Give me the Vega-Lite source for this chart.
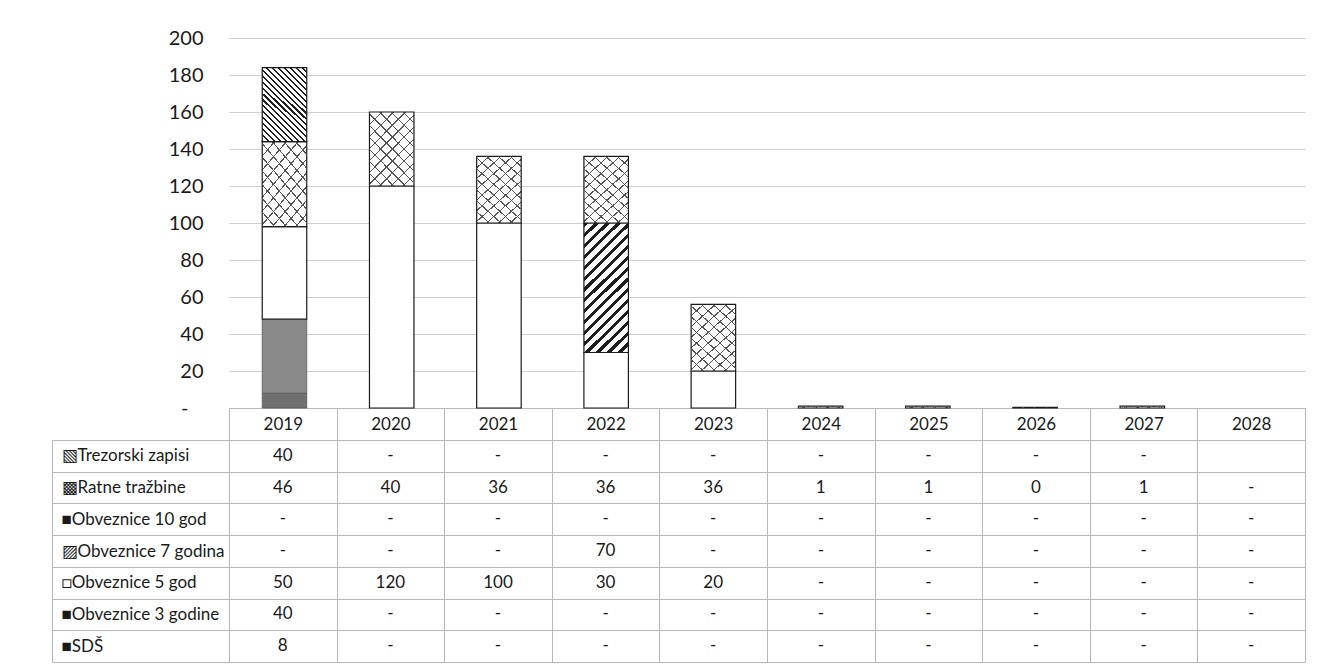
{
  "$schema": "https://vega.github.io/schema/vega-lite/v6.json",
  "padding": {"left": 51, "top": 28, "right": 5, "bottom": 5},
  "background": "white",
  "spacing": 32,
  "bounds": "flush",
  "data": {"values": [
    {"year": 2019, "series": "SDŠ", "value": 8},
    {"year": 2019, "series": "Obveznice 3 godine", "value": 40},
    {"year": 2019, "series": "Obveznice 5 god", "value": 50},
    {"year": 2019, "series": "Obveznice 7 godina", "value": 0},
    {"year": 2019, "series": "Obveznice 10 god", "value": 0},
    {"year": 2019, "series": "Ratne tražbine", "value": 46},
    {"year": 2019, "series": "Trezorski zapisi", "value": 40},
    {"year": 2020, "series": "SDŠ", "value": 0},
    {"year": 2020, "series": "Obveznice 3 godine", "value": 0},
    {"year": 2020, "series": "Obveznice 5 god", "value": 120},
    {"year": 2020, "series": "Obveznice 7 godina", "value": 0},
    {"year": 2020, "series": "Obveznice 10 god", "value": 0},
    {"year": 2020, "series": "Ratne tražbine", "value": 40},
    {"year": 2020, "series": "Trezorski zapisi", "value": 0},
    {"year": 2021, "series": "SDŠ", "value": 0},
    {"year": 2021, "series": "Obveznice 3 godine", "value": 0},
    {"year": 2021, "series": "Obveznice 5 god", "value": 100},
    {"year": 2021, "series": "Obveznice 7 godina", "value": 0},
    {"year": 2021, "series": "Obveznice 10 god", "value": 0},
    {"year": 2021, "series": "Ratne tražbine", "value": 36},
    {"year": 2021, "series": "Trezorski zapisi", "value": 0},
    {"year": 2022, "series": "SDŠ", "value": 0},
    {"year": 2022, "series": "Obveznice 3 godine", "value": 0},
    {"year": 2022, "series": "Obveznice 5 god", "value": 30},
    {"year": 2022, "series": "Obveznice 7 godina", "value": 70},
    {"year": 2022, "series": "Obveznice 10 god", "value": 0},
    {"year": 2022, "series": "Ratne tražbine", "value": 36},
    {"year": 2022, "series": "Trezorski zapisi", "value": 0},
    {"year": 2023, "series": "SDŠ", "value": 0},
    {"year": 2023, "series": "Obveznice 3 godine", "value": 0},
    {"year": 2023, "series": "Obveznice 5 god", "value": 20},
    {"year": 2023, "series": "Obveznice 7 godina", "value": 0},
    {"year": 2023, "series": "Obveznice 10 god", "value": 0},
    {"year": 2023, "series": "Ratne tražbine", "value": 36},
    {"year": 2023, "series": "Trezorski zapisi", "value": 0},
    {"year": 2024, "series": "SDŠ", "value": 0},
    {"year": 2024, "series": "Obveznice 3 godine", "value": 0},
    {"year": 2024, "series": "Obveznice 5 god", "value": 0},
    {"year": 2024, "series": "Obveznice 7 godina", "value": 0},
    {"year": 2024, "series": "Obveznice 10 god", "value": 0},
    {"year": 2024, "series": "Ratne tražbine", "value": 1},
    {"year": 2024, "series": "Trezorski zapisi", "value": 0},
    {"year": 2025, "series": "SDŠ", "value": 0},
    {"year": 2025, "series": "Obveznice 3 godine", "value": 0},
    {"year": 2025, "series": "Obveznice 5 god", "value": 0},
    {"year": 2025, "series": "Obveznice 7 godina", "value": 0},
    {"year": 2025, "series": "Obveznice 10 god", "value": 0},
    {"year": 2025, "series": "Ratne tražbine", "value": 1},
    {"year": 2025, "series": "Trezorski zapisi", "value": 0},
    {"year": 2026, "series": "SDŠ", "value": 0},
    {"year": 2026, "series": "Obveznice 3 godine", "value": 0},
    {"year": 2026, "series": "Obveznice 5 god", "value": 0},
    {"year": 2026, "series": "Obveznice 7 godina", "value": 0},
    {"year": 2026, "series": "Obveznice 10 god", "value": 0},
    {"year": 2026, "series": "Ratne tražbine", "value": 0.4},
    {"year": 2026, "series": "Trezorski zapisi", "value": 0},
    {"year": 2027, "series": "SDŠ", "value": 0},
    {"year": 2027, "series": "Obveznice 3 godine", "value": 0},
    {"year": 2027, "series": "Obveznice 5 god", "value": 0},
    {"year": 2027, "series": "Obveznice 7 godina", "value": 0},
    {"year": 2027, "series": "Obveznice 10 god", "value": 0},
    {"year": 2027, "series": "Ratne tražbine", "value": 1},
    {"year": 2027, "series": "Trezorski zapisi", "value": 0},
    {"year": 2028, "series": "SDŠ", "value": 0},
    {"year": 2028, "series": "Obveznice 3 godine", "value": 0},
    {"year": 2028, "series": "Obveznice 5 god", "value": 0},
    {"year": 2028, "series": "Obveznice 7 godina", "value": 0},
    {"year": 2028, "series": "Obveznice 10 god", "value": 0},
    {"year": 2028, "series": "Ratne tražbine", "value": 0},
    {"year": 2028, "series": "Trezorski zapisi", "value": null}
  ]},
  "vconcat": [
    {
      "width": 1076,
      "height": 370,
      "transform": [
        {"filter": "datum.value > 0"},
        {"stack": "value", "groupby": ["year"], "as": ["v0", "v1"]}
      ],
      "encoding": {
        "x": {"field": "year", "type": "ordinal",
          "scale": {"domain": [2019, 2020, 2021, 2022, 2023, 2024, 2025, 2026, 2027, 2028], "paddingInner": 0.585, "paddingOuter": 0.31},
          "axis": {"title": null, "labels": false, "ticks": false, "domain": true, "domainColor": "#b8b8b8", "grid": false}},
        "y": {"field": "v1", "type": "quantitative",
          "scale": {"domain": [0, 200], "nice": false},
          "axis": {"title": null, "values": [0, 20, 40, 60, 80, 100, 120, 140, 160, 180, 200], "grid": true, "gridColor": "#cfcfcf", "domain": false, "ticks": false, "labelFont": "Lato", "labelFontSize": 20, "labelColor": "#1a1a1a", "labelPadding": 26,
            "labelExpr": "datum.value === 0 ? '-\u2800' : datum.label"}},
        "y2": {"field": "v0"}
      },
      "layer": [
        {"transform": [{"filter": "datum.series === 'SDŠ'"}],
         "mark": {"type": "bar", "fill": "#707070", "stroke": "#555555", "strokeWidth": 0.8}},
        {"transform": [{"filter": "datum.series === 'Obveznice 3 godine'"}],
         "mark": {"type": "bar", "fill": "#8a8a8a", "stroke": "#555555", "strokeWidth": 0.8}},
        {"transform": [{"filter": "datum.series === 'Obveznice 5 god'"}],
         "mark": {"type": "bar", "fill": "#ffffff", "stroke": "#1a1a1a", "strokeWidth": 1.2}},
        {"transform": [{"filter": "datum.series === 'Obveznice 10 god'"}],
         "mark": {"type": "bar", "fill": "#808080", "stroke": "#1a1a1a", "strokeWidth": 1.2}},
        {"transform": [{"filter": "datum.series === 'Obveznice 7 godina'"}],
         "mark": {"type": "bar", "stroke": "#1a1a1a", "strokeWidth": 1.2,
           "fill": {"gradient": "linear", "x1": 0, "y1": 0, "x2": 0.406, "y2": 1.2, "stops": [
             {"offset": 0, "color": "#1e1e1e"}, {"offset": 0.024, "color": "#1e1e1e"}, {"offset": 0.024, "color": "#ffffff"}, {"offset": 0.0625, "color": "#ffffff"},
             {"offset": 0.0625, "color": "#1e1e1e"}, {"offset": 0.0865, "color": "#1e1e1e"}, {"offset": 0.0865, "color": "#ffffff"}, {"offset": 0.125, "color": "#ffffff"},
             {"offset": 0.125, "color": "#1e1e1e"}, {"offset": 0.149, "color": "#1e1e1e"}, {"offset": 0.149, "color": "#ffffff"}, {"offset": 0.1875, "color": "#ffffff"},
             {"offset": 0.1875, "color": "#1e1e1e"}, {"offset": 0.2115, "color": "#1e1e1e"}, {"offset": 0.2115, "color": "#ffffff"}, {"offset": 0.25, "color": "#ffffff"},
             {"offset": 0.25, "color": "#1e1e1e"}, {"offset": 0.274, "color": "#1e1e1e"}, {"offset": 0.274, "color": "#ffffff"}, {"offset": 0.3125, "color": "#ffffff"},
             {"offset": 0.3125, "color": "#1e1e1e"}, {"offset": 0.3365, "color": "#1e1e1e"}, {"offset": 0.3365, "color": "#ffffff"}, {"offset": 0.375, "color": "#ffffff"},
             {"offset": 0.375, "color": "#1e1e1e"}, {"offset": 0.399, "color": "#1e1e1e"}, {"offset": 0.399, "color": "#ffffff"}, {"offset": 0.4375, "color": "#ffffff"},
             {"offset": 0.4375, "color": "#1e1e1e"}, {"offset": 0.4615, "color": "#1e1e1e"}, {"offset": 0.4615, "color": "#ffffff"}, {"offset": 0.5, "color": "#ffffff"},
             {"offset": 0.5, "color": "#1e1e1e"}, {"offset": 0.524, "color": "#1e1e1e"}, {"offset": 0.524, "color": "#ffffff"}, {"offset": 0.5625, "color": "#ffffff"},
             {"offset": 0.5625, "color": "#1e1e1e"}, {"offset": 0.5865, "color": "#1e1e1e"}, {"offset": 0.5865, "color": "#ffffff"}, {"offset": 0.625, "color": "#ffffff"},
             {"offset": 0.625, "color": "#1e1e1e"}, {"offset": 0.649, "color": "#1e1e1e"}, {"offset": 0.649, "color": "#ffffff"}, {"offset": 0.6875, "color": "#ffffff"},
             {"offset": 0.6875, "color": "#1e1e1e"}, {"offset": 0.7115, "color": "#1e1e1e"}, {"offset": 0.7115, "color": "#ffffff"}, {"offset": 0.75, "color": "#ffffff"},
             {"offset": 0.75, "color": "#1e1e1e"}, {"offset": 0.774, "color": "#1e1e1e"}, {"offset": 0.774, "color": "#ffffff"}, {"offset": 0.8125, "color": "#ffffff"},
             {"offset": 0.8125, "color": "#1e1e1e"}, {"offset": 0.8365, "color": "#1e1e1e"}, {"offset": 0.8365, "color": "#ffffff"}, {"offset": 0.875, "color": "#ffffff"},
             {"offset": 0.875, "color": "#1e1e1e"}, {"offset": 0.899, "color": "#1e1e1e"}, {"offset": 0.899, "color": "#ffffff"}, {"offset": 0.9375, "color": "#ffffff"},
             {"offset": 0.9375, "color": "#1e1e1e"}, {"offset": 0.9615, "color": "#1e1e1e"}, {"offset": 0.9615, "color": "#ffffff"}, {"offset": 1, "color": "#ffffff"}
           ]}}},
        {"transform": [{"filter": "datum.series === 'Ratne tražbine'"}],
         "mark": {"type": "bar", "stroke": "#1a1a1a", "strokeWidth": 1.2,
           "fill": {"gradient": "linear", "x1": 0, "y1": 0, "x2": 0.717, "y2": 1.173, "stops": [
             {"offset": 0, "color": "#555555"}, {"offset": 0.012, "color": "#555555"}, {"offset": 0.012, "color": "#ffffff"}, {"offset": 0.1, "color": "#ffffff"},
             {"offset": 0.1, "color": "#555555"}, {"offset": 0.112, "color": "#555555"}, {"offset": 0.112, "color": "#ffffff"}, {"offset": 0.2, "color": "#ffffff"},
             {"offset": 0.2, "color": "#555555"}, {"offset": 0.212, "color": "#555555"}, {"offset": 0.212, "color": "#ffffff"}, {"offset": 0.3, "color": "#ffffff"},
             {"offset": 0.3, "color": "#555555"}, {"offset": 0.312, "color": "#555555"}, {"offset": 0.312, "color": "#ffffff"}, {"offset": 0.4, "color": "#ffffff"},
             {"offset": 0.4, "color": "#555555"}, {"offset": 0.412, "color": "#555555"}, {"offset": 0.412, "color": "#ffffff"}, {"offset": 0.5, "color": "#ffffff"},
             {"offset": 0.5, "color": "#555555"}, {"offset": 0.512, "color": "#555555"}, {"offset": 0.512, "color": "#ffffff"}, {"offset": 0.6, "color": "#ffffff"},
             {"offset": 0.6, "color": "#555555"}, {"offset": 0.612, "color": "#555555"}, {"offset": 0.612, "color": "#ffffff"}, {"offset": 0.7, "color": "#ffffff"},
             {"offset": 0.7, "color": "#555555"}, {"offset": 0.712, "color": "#555555"}, {"offset": 0.712, "color": "#ffffff"}, {"offset": 0.8, "color": "#ffffff"},
             {"offset": 0.8, "color": "#555555"}, {"offset": 0.812, "color": "#555555"}, {"offset": 0.812, "color": "#ffffff"}, {"offset": 0.9, "color": "#ffffff"},
             {"offset": 0.9, "color": "#555555"}, {"offset": 0.912, "color": "#555555"}, {"offset": 0.912, "color": "#ffffff"}, {"offset": 1, "color": "#ffffff"}
           ]}}},
        {"transform": [{"filter": "datum.series === 'Ratne tražbine'"}],
         "mark": {"type": "bar", "strokeWidth": 0,
           "fill": {"gradient": "linear", "x1": 0, "y1": 1, "x2": 0.717, "y2": -0.173, "stops": [
             {"offset": 0, "color": "#555555"}, {"offset": 0.012, "color": "#555555"}, {"offset": 0.012, "color": "transparent"}, {"offset": 0.1, "color": "transparent"},
             {"offset": 0.1, "color": "#555555"}, {"offset": 0.112, "color": "#555555"}, {"offset": 0.112, "color": "transparent"}, {"offset": 0.2, "color": "transparent"},
             {"offset": 0.2, "color": "#555555"}, {"offset": 0.212, "color": "#555555"}, {"offset": 0.212, "color": "transparent"}, {"offset": 0.3, "color": "transparent"},
             {"offset": 0.3, "color": "#555555"}, {"offset": 0.312, "color": "#555555"}, {"offset": 0.312, "color": "transparent"}, {"offset": 0.4, "color": "transparent"},
             {"offset": 0.4, "color": "#555555"}, {"offset": 0.412, "color": "#555555"}, {"offset": 0.412, "color": "transparent"}, {"offset": 0.5, "color": "transparent"},
             {"offset": 0.5, "color": "#555555"}, {"offset": 0.512, "color": "#555555"}, {"offset": 0.512, "color": "transparent"}, {"offset": 0.6, "color": "transparent"},
             {"offset": 0.6, "color": "#555555"}, {"offset": 0.612, "color": "#555555"}, {"offset": 0.612, "color": "transparent"}, {"offset": 0.7, "color": "transparent"},
             {"offset": 0.7, "color": "#555555"}, {"offset": 0.712, "color": "#555555"}, {"offset": 0.712, "color": "transparent"}, {"offset": 0.8, "color": "transparent"},
             {"offset": 0.8, "color": "#555555"}, {"offset": 0.812, "color": "#555555"}, {"offset": 0.812, "color": "transparent"}, {"offset": 0.9, "color": "transparent"},
             {"offset": 0.9, "color": "#555555"}, {"offset": 0.912, "color": "#555555"}, {"offset": 0.912, "color": "transparent"}, {"offset": 1, "color": "transparent"}
           ]}}},
        {"transform": [{"filter": "datum.series === 'Trezorski zapisi'"}],
         "mark": {"type": "bar", "stroke": "#1a1a1a", "strokeWidth": 1.2,
           "fill": {"gradient": "linear", "x1": 0, "y1": 1, "x2": 0.701, "y2": -0.178, "stops": [
             {"offset": 0, "color": "#222222"}, {"offset": 0.018, "color": "#222222"}, {"offset": 0.018, "color": "#ffffff"}, {"offset": 0.05, "color": "#ffffff"},
             {"offset": 0.05, "color": "#222222"}, {"offset": 0.068, "color": "#222222"}, {"offset": 0.068, "color": "#ffffff"}, {"offset": 0.1, "color": "#ffffff"},
             {"offset": 0.1, "color": "#222222"}, {"offset": 0.118, "color": "#222222"}, {"offset": 0.118, "color": "#ffffff"}, {"offset": 0.15, "color": "#ffffff"},
             {"offset": 0.15, "color": "#222222"}, {"offset": 0.168, "color": "#222222"}, {"offset": 0.168, "color": "#ffffff"}, {"offset": 0.2, "color": "#ffffff"},
             {"offset": 0.2, "color": "#222222"}, {"offset": 0.218, "color": "#222222"}, {"offset": 0.218, "color": "#ffffff"}, {"offset": 0.25, "color": "#ffffff"},
             {"offset": 0.25, "color": "#222222"}, {"offset": 0.268, "color": "#222222"}, {"offset": 0.268, "color": "#ffffff"}, {"offset": 0.3, "color": "#ffffff"},
             {"offset": 0.3, "color": "#222222"}, {"offset": 0.318, "color": "#222222"}, {"offset": 0.318, "color": "#ffffff"}, {"offset": 0.35, "color": "#ffffff"},
             {"offset": 0.35, "color": "#222222"}, {"offset": 0.368, "color": "#222222"}, {"offset": 0.368, "color": "#ffffff"}, {"offset": 0.4, "color": "#ffffff"},
             {"offset": 0.4, "color": "#222222"}, {"offset": 0.418, "color": "#222222"}, {"offset": 0.418, "color": "#ffffff"}, {"offset": 0.45, "color": "#ffffff"},
             {"offset": 0.45, "color": "#222222"}, {"offset": 0.468, "color": "#222222"}, {"offset": 0.468, "color": "#ffffff"}, {"offset": 0.5, "color": "#ffffff"},
             {"offset": 0.5, "color": "#222222"}, {"offset": 0.518, "color": "#222222"}, {"offset": 0.518, "color": "#ffffff"}, {"offset": 0.55, "color": "#ffffff"},
             {"offset": 0.55, "color": "#222222"}, {"offset": 0.568, "color": "#222222"}, {"offset": 0.568, "color": "#ffffff"}, {"offset": 0.6, "color": "#ffffff"},
             {"offset": 0.6, "color": "#222222"}, {"offset": 0.618, "color": "#222222"}, {"offset": 0.618, "color": "#ffffff"}, {"offset": 0.65, "color": "#ffffff"},
             {"offset": 0.65, "color": "#222222"}, {"offset": 0.668, "color": "#222222"}, {"offset": 0.668, "color": "#ffffff"}, {"offset": 0.7, "color": "#ffffff"},
             {"offset": 0.7, "color": "#222222"}, {"offset": 0.718, "color": "#222222"}, {"offset": 0.718, "color": "#ffffff"}, {"offset": 0.75, "color": "#ffffff"},
             {"offset": 0.75, "color": "#222222"}, {"offset": 0.768, "color": "#222222"}, {"offset": 0.768, "color": "#ffffff"}, {"offset": 0.8, "color": "#ffffff"},
             {"offset": 0.8, "color": "#222222"}, {"offset": 0.818, "color": "#222222"}, {"offset": 0.818, "color": "#ffffff"}, {"offset": 0.85, "color": "#ffffff"},
             {"offset": 0.85, "color": "#222222"}, {"offset": 0.868, "color": "#222222"}, {"offset": 0.868, "color": "#ffffff"}, {"offset": 0.9, "color": "#ffffff"},
             {"offset": 0.9, "color": "#222222"}, {"offset": 0.918, "color": "#222222"}, {"offset": 0.918, "color": "#ffffff"}, {"offset": 0.95, "color": "#ffffff"},
             {"offset": 0.95, "color": "#222222"}, {"offset": 0.968, "color": "#222222"}, {"offset": 0.968, "color": "#ffffff"}, {"offset": 1, "color": "#ffffff"}
           ]}}}
      ]
    },
    {
      "width": 1076,
      "height": 222,
      "mark": {"type": "text", "font": "Lato", "fontSize": 17, "color": "#1a1a1a"},
      "encoding": {
        "x": {"field": "year", "type": "ordinal",
          "scale": {"domain": [2019, 2020, 2021, 2022, 2023, 2024, 2025, 2026, 2027, 2028], "paddingInner": 0, "paddingOuter": 0},
          "axis": {"orient": "top", "title": null, "labelAngle": 0, "tickBand": "extent", "tickSize": 32, "tickColor": "#b8b8b8", "domainColor": "#b8b8b8", "grid": true, "gridColor": "#b8b8b8", "labelPadding": -16, "labelBaseline": "middle", "labelFont": "Lato", "labelFontSize": 17, "labelColor": "#1a1a1a"}},
        "y": {"field": "series", "type": "nominal",
          "sort": ["Trezorski zapisi", "Ratne tražbine", "Obveznice 10 god", "Obveznice 7 godina", "Obveznice 5 god", "Obveznice 3 godine", "SDŠ"],
          "scale": {"paddingInner": 0, "paddingOuter": 0},
          "axis": {"orient": "left", "title": null, "offset": 177, "tickBand": "extent", "tickSize": -177, "tickColor": "#b8b8b8", "domainColor": "#b8b8b8", "grid": true, "gridColor": "#b8b8b8", "labelAlign": "left", "labelBaseline": "middle", "labelPadding": 168, "labelLimit": 0, "labelFont": "Lato", "labelFontSize": 17, "labelColor": "#1a1a1a",
            "labelExpr": "datum.value == null ? '' : (datum.value === 'Trezorski zapisi' ? '▧' : datum.value === 'Ratne tražbine' ? '▩' : datum.value === 'Obveznice 7 godina' ? '▨' : datum.value === 'Obveznice 5 god' ? '□' : '■') + datum.value"}},
        "text": {"condition": [{"test": "datum.value === null", "value": ""}, {"test": "datum.value === 0", "value": "-"}], "field": "value", "type": "quantitative", "format": ".0f"}
      }
    }
  ],
  "config": {"view": {"stroke": null}, "font": "Lato"}
}
